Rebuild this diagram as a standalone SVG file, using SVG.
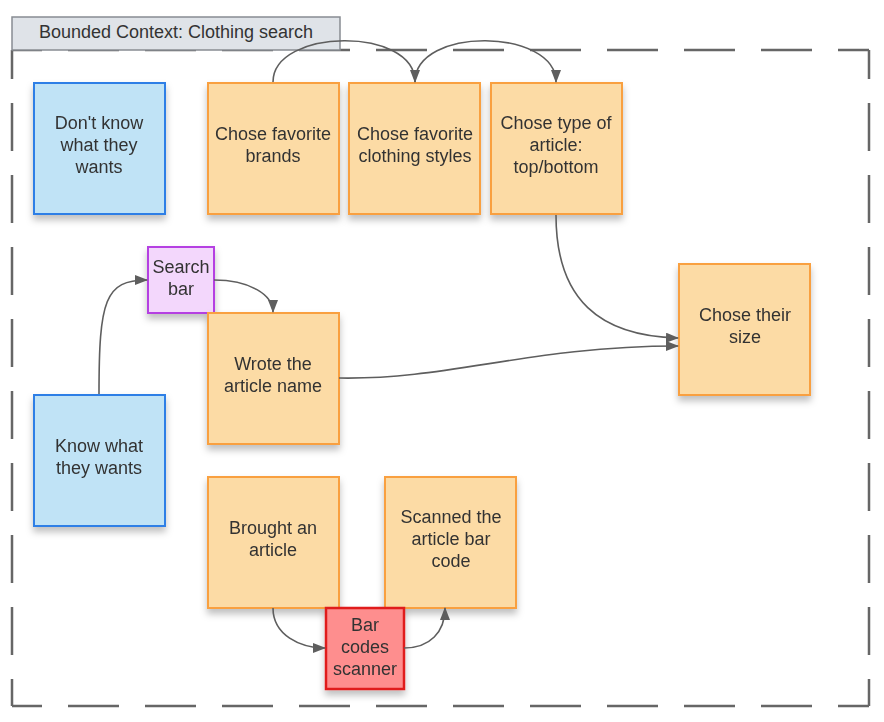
<svg xmlns="http://www.w3.org/2000/svg" width="884" height="722" viewBox="0 0 884 722">
<defs>
<filter id="sh" x="-20%" y="-20%" width="140%" height="150%">
<feDropShadow dx="0" dy="5" stdDeviation="3.5" flood-color="#000" flood-opacity="0.25"/>
</filter>
<marker id="arr" viewBox="0 0 13 10" refX="12" refY="5" markerWidth="13" markerHeight="10" markerUnits="userSpaceOnUse" orient="auto">
<path d="M0,0 L13,5 L0,10 z" fill="#5e5e5e"/>
</marker>
<style>
text{font-family:"Liberation Sans",Arial,sans-serif;font-size:18px;fill:#333;text-anchor:middle}
.orange{fill:#fcdba5;stroke:#f9a040;stroke-width:2}
.blue{fill:#c0e3f6;stroke:#2e7fe6;stroke-width:2}
.purple{fill:#f3d7fc;stroke:#b540e2;stroke-width:2}
.red{fill:#fe8e8e;stroke:#e01c1c;stroke-width:2.5}
.conn path{fill:none;stroke:#5e5e5e;stroke-width:1.6;marker-end:url(#arr)}
.hd{fill:none;stroke:#666;stroke-width:2.5;stroke-dasharray:51 26;stroke-dashoffset:21}
.vd{fill:none;stroke:#666;stroke-width:2.5;stroke-dasharray:48 24;stroke-dashoffset:19}
</style>
</defs>
<rect width="884" height="722" fill="#fff"/>
<g id="context">
<path class="hd" d="M12,50 H869"/>
<path class="hd" d="M12,706 H869"/>
<path class="vd" d="M12,50 V706"/>
<path class="vd" d="M869,50 V706"/>
<rect x="12" y="17" width="328" height="33" fill="#dfe3e8" stroke="#888c92" stroke-width="1.5"/>
<text x="176" y="38">Bounded Context: Clothing search</text>
</g>
<g id="dont-know" filter="url(#sh)">
<rect class="blue" x="34" y="83" width="131" height="131"/>
<text x="99" y="129">Don't know</text><text x="99" y="151">what they</text><text x="99" y="173">wants</text>
</g>
<g id="brands" filter="url(#sh)">
<rect class="orange" x="208" y="83" width="131" height="131"/>
<text x="273" y="140">Chose favorite</text><text x="273" y="162">brands</text>
</g>
<g id="styles" filter="url(#sh)">
<rect class="orange" x="349" y="83" width="131" height="131"/>
<text x="415" y="140">Chose favorite</text><text x="415" y="162">clothing styles</text>
</g>
<g id="type" filter="url(#sh)">
<rect class="orange" x="491" y="83" width="131" height="131"/>
<text x="556" y="129">Chose type of</text><text x="556" y="151">article:</text><text x="556" y="173">top/bottom</text>
</g>
<g id="search-bar" filter="url(#sh)">
<rect class="purple" x="148" y="247" width="66" height="66"/>
<text x="181" y="273">Search</text><text x="181" y="295">bar</text>
</g>
<g id="wrote" filter="url(#sh)">
<rect class="orange" x="208" y="313" width="131" height="131"/>
<text x="273" y="370">Wrote the</text><text x="273" y="392">article name</text>
</g>
<g id="size" filter="url(#sh)">
<rect class="orange" x="679" y="264" width="131" height="131"/>
<text x="745" y="321">Chose their</text><text x="745" y="343">size</text>
</g>
<g id="know" filter="url(#sh)">
<rect class="blue" x="34" y="395" width="131" height="131"/>
<text x="99" y="452">Know what</text><text x="99" y="474">they wants</text>
</g>
<g id="brought" filter="url(#sh)">
<rect class="orange" x="208" y="477" width="131" height="131"/>
<text x="273" y="534">Brought an</text><text x="273" y="556">article</text>
</g>
<g id="scanned" filter="url(#sh)">
<rect class="orange" x="385" y="477" width="131" height="131"/>
<text x="451" y="523">Scanned the</text><text x="451" y="545">article bar</text><text x="451" y="567">code</text>
</g>
<g id="scanner" filter="url(#sh)">
<rect class="red" x="326" y="608" width="78" height="81"/>
<text x="365" y="631">Bar</text><text x="365" y="653">codes</text><text x="365" y="675">scanner</text>
</g>
<g id="connectors" class="conn">
<path d="M273,82 C273,28 415,26 415,82"/>
<path d="M415,82 C415,26 556,28 556,82"/>
<path d="M556,215 C556,300 600,336 678,338"/>
<path d="M339,378 C450,380 530,346 678,346"/>
<path d="M99,394 C99,300 105,280 147,280"/>
<path d="M214,280 C250,280 273,295 273,312"/>
<path d="M273,608 C273,635 300,648 325,648"/>
<path d="M404,648 C430,648 445,632 445,608"/>
</g>
</svg>
